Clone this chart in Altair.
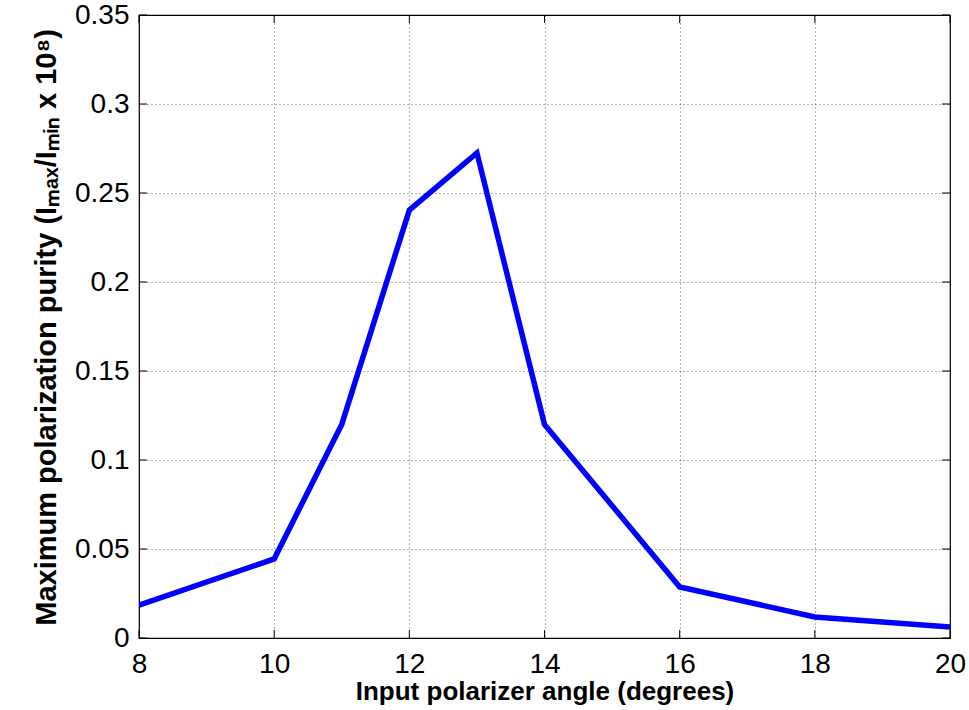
import altair as alt
import pandas as pd

angles = [8, 10, 11, 12, 13, 14, 16, 18, 20]
purity = [0.0185, 0.0444, 0.120, 0.2404, 0.2725, 0.120, 0.0287, 0.0118, 0.0062]

x_ticks = [8, 10, 12, 14, 16, 18, 20]
y_ticks = [0, 0.05, 0.1, 0.15, 0.2, 0.25, 0.3, 0.35]

W, H = 811, 623
FONT = "Liberation Sans"

df = pd.DataFrame({"angle": angles, "purity": purity})
xt = pd.DataFrame({"t": x_ticks})
yt = pd.DataFrame({"t": y_ticks})

xscale = alt.Scale(domain=[8, 20], nice=False, zero=False)
yscale = alt.Scale(domain=[0, 0.35], nice=False)

line = alt.Chart(df).mark_line(color="#0000ff", strokeWidth=5.5, strokeJoin="miter", clip=True).encode(
    x=alt.X("angle:Q", scale=xscale,
            axis=alt.Axis(values=x_ticks, title="Input polarizer angle (degrees)",
                          format="d", tickSize=0, labelPadding=12, labelFlush=False,
                          grid=True, gridDash=[1, 3], gridColor="#000", gridOpacity=0.6,
                          domain=False, titleFontSize=26,
                          titleX=W / 2, titleY=61, titleBaseline="alphabetic")),
    y=alt.Y("purity:Q", scale=yscale,
            axis=alt.Axis(values=y_ticks, title="Maximum polarization purity (Iₘₐₓ/Iₘᵢₙ x 10⁸)",
                          format="~g", tickSize=0, labelPadding=10, labelFlush=False,
                          grid=True, gridDash=[1, 3], gridColor="#000", gridOpacity=0.6,
                          domain=False, titleFontSize=29, titleLimit=800,
                          titleAngle=270, titleX=-84, titleY=312,
                          titleAlign="center", titleBaseline="alphabetic")),
)

# inward tick marks on all four sides
bt = alt.Chart(xt).mark_rule(color="black", strokeWidth=1).encode(
    x=alt.X("t:Q", scale=xscale), y=alt.value(H), y2=alt.value(H - 8))
tt = alt.Chart(xt).mark_rule(color="black", strokeWidth=1).encode(
    x=alt.X("t:Q", scale=xscale), y=alt.value(0), y2=alt.value(8))
lt = alt.Chart(yt).mark_rule(color="black", strokeWidth=1).encode(
    y=alt.Y("t:Q", scale=yscale), x=alt.value(0), x2=alt.value(8))
rt = alt.Chart(yt).mark_rule(color="black", strokeWidth=1).encode(
    y=alt.Y("t:Q", scale=yscale), x=alt.value(W), x2=alt.value(W - 8))

chart = alt.layer(line, bt, tt, lt, rt).properties(
    width=W, height=H,
    autosize=alt.AutoSizeParams(type="none"),
    padding={"left": 139, "top": 15, "right": 19, "bottom": 72},
    background="white",
).configure_view(
    stroke="black", strokeWidth=1.2
).configure_axis(
    labelFont=FONT, labelFontSize=28, labelColor="black",
    titleFont=FONT, titleFontWeight="bold", titleColor="black",
)

chart.save("out.html", embed_options={"renderer": "svg", "actions": False})
